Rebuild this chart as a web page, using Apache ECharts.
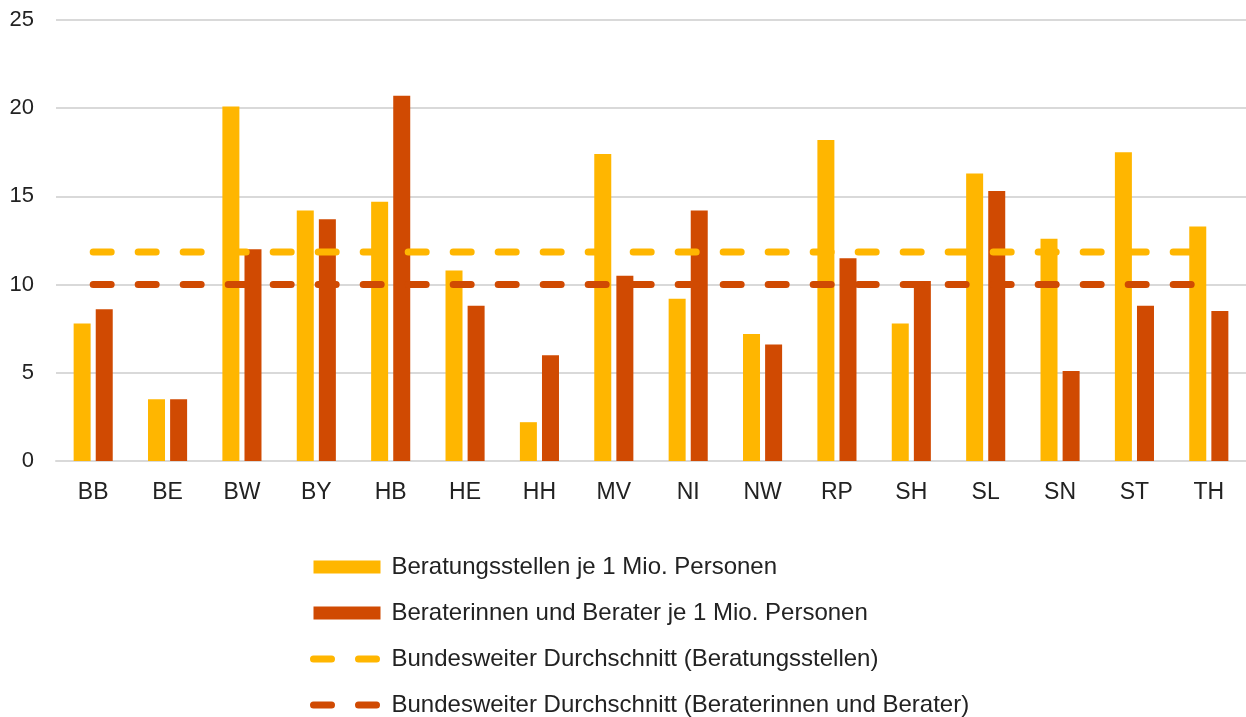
<!DOCTYPE html>
<html>
<head>
<meta charset="utf-8">
<script src="https://cdn.jsdelivr.net/npm/echarts@6/dist/echarts.min.js"></script>
<style>
  html, body { margin: 0; padding: 0; background: #fff; }
  #chart { width: 1246px; height: 717px; }
</style>
</head>
<body>
<div id="chart"></div>
<script>
// Bundeslaender
var laender = ['BB', 'BE', 'BW', 'BY', 'HB', 'HE', 'HH', 'MV', 'NI', 'NW', 'RP', 'SH', 'SL', 'SN', 'ST', 'TH'];
// Beratungsstellen je 1 Mio. Personen
var stellen = [7.8, 3.5, 20.1, 14.2, 14.7, 10.8, 2.2, 17.4, 9.2, 7.2, 18.2, 7.8, 16.3, 12.6, 17.5, 13.3];
// Beraterinnen und Berater je 1 Mio. Personen
var berater = [8.6, 3.5, 12.0, 13.7, 20.7, 8.8, 6.0, 10.5, 14.2, 6.6, 11.5, 10.2, 15.3, 5.1, 8.8, 8.5];
// Bundesweite Durchschnitte
var schnittStellen = 11.85;
var schnittBerater = 10.0;
var yTicks = [0, 5, 10, 15, 20, 25];

var orange = '#FFB600';
var rot = '#D04A02';
var fontName = '"Liberation Sans", Arial, sans-serif';

var namen = [
	'Beratungsstellen je 1 Mio. Personen',
	'Beraterinnen und Berater je 1 Mio. Personen',
	'Bundesweiter Durchschnitt (Beratungsstellen)',
	'Bundesweiter Durchschnitt (Beraterinnen und Berater)'
];

var myChart = echarts.init(document.getElementById('chart'));

var option = {
	animation: false,
	textStyle: { fontFamily: fontName },
	grid: { left: 56, right: 0, top: 20, bottom: 256, containLabel: false },
	legend: {
		orient: 'vertical',
		left: 310,
		top: 555,
		height: 190,
		padding: 0,
		itemWidth: 67,
		itemHeight: 13,
		itemGap: 22,
		textStyle: { fontSize: 24, color: '#222', fontFamily: fontName, padding: [0, 0, 0, 6], lineHeight: 24 },
		data: [
			{ name: namen[0], icon: 'rect' },
			{ name: namen[1], icon: 'rect' },
			{ name: namen[2], itemStyle: { opacity: 0 }, lineStyle: { width: 7, type: [18, 27], cap: 'round', color: orange, opacity: 1 } },
			{ name: namen[3], itemStyle: { opacity: 0 }, lineStyle: { width: 7, type: [18, 27], cap: 'round', color: rot, opacity: 1 } }
		]
	},
	xAxis: {
		type: 'category',
		data: laender,
		axisLine: { lineStyle: { color: '#d9d9d9', width: 2 } },
		axisTick: { show: false },
		axisLabel: { fontSize: 23, color: '#222', margin: 20, fontFamily: fontName }
	},
	yAxis: {
		type: 'value',
		min: yTicks[0],
		max: yTicks[yTicks.length - 1],
		interval: 5,
		axisLine: { show: false },
		axisTick: { show: false },
		axisLabel: { fontSize: 22, color: '#222', margin: 22, fontFamily: fontName },
		splitLine: { lineStyle: { color: '#d9d9d9', width: 2 } }
	},
	series: [
		{
			name: namen[0],
			type: 'bar',
			data: stellen,
			barWidth: 17,
			barGap: '30%',
			itemStyle: { color: orange }
		},
		{
			name: namen[1],
			type: 'bar',
			data: berater,
			barWidth: 17,
			barGap: '30%',
			itemStyle: { color: rot }
		},
		{
			name: namen[2],
			type: 'line',
			data: laender.map(function () { return schnittStellen; }),
			symbol: 'none',
			lineStyle: { color: orange, width: 7, type: [18, 27], cap: 'round' },
			itemStyle: { color: orange }
		},
		{
			name: namen[3],
			type: 'line',
			data: laender.map(function () { return schnittBerater; }),
			symbol: 'none',
			lineStyle: { color: rot, width: 7, type: [18, 27], cap: 'round' },
			itemStyle: { color: rot }
		}
	]
};

myChart.setOption(option);
</script>
</body>
</html>
